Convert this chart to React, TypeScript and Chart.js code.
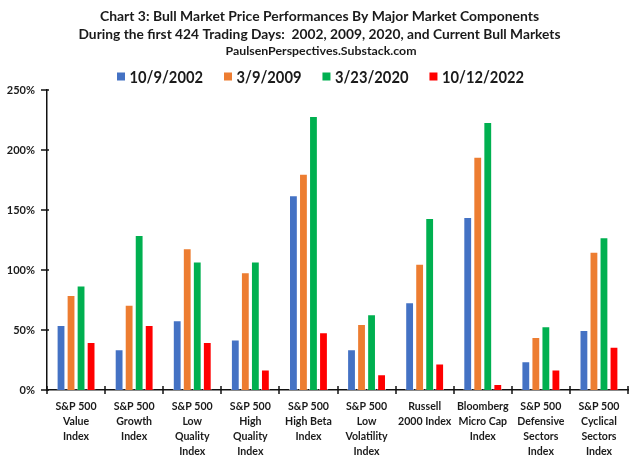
import React, { useEffect, useRef } from 'react';
import { Chart, registerables } from 'chart.js';
Chart.register(...registerables);

const categories: string[][] = [
  ['S&P 500', 'Value', 'Index'],
  ['S&P 500', 'Growth', 'Index'],
  ['S&P 500', 'Low', 'Quality', 'Index'],
  ['S&P 500', 'High', 'Quality', 'Index'],
  ['S&P 500', 'High Beta', 'Index'],
  ['S&P 500', 'Low', 'Volatility', 'Index'],
  ['Russell', '2000 Index'],
  ['Bloomberg', 'Micro Cap', 'Index'],
  ['S&P 500', 'Defensive', 'Sectors', 'Index'],
  ['S&P 500', 'Cyclical', 'Sectors', 'Index'],
];

const seriesLabels = ['10/9/2002', '3/9/2009', '3/23/2020', '10/12/2022'];
const series2002 = [54, 34, 58, 42, 162, 34, 73, 144, 24, 50];
const series2009 = [79, 71, 118, 98, 180, 55, 105, 194, 44, 115];
const series2020 = [87, 129, 107, 107, 228, 63, 143, 223, 53, 127];
const series2022 = [40, 54, 40, 17, 48, 13, 22, 5, 17, 36];
const seriesColors = ['#4472C4', '#ED7D31', '#00B050', '#FF0000'];

const yTickValues = [0, 50, 100, 150, 200, 250];
const yTickLabels = ['0%', '50%', '100%', '150%', '200%', '250%'];

const titleLine1 = 'Chart 3: Bull Market Price Performances By Major Market Components';
const titleLine2 = 'During the first 424 Trading Days:  2002, 2009, 2020, and Current Bull Markets';
const titleLine3 = 'PaulsenPerspectives.Substack.com';

const FONT = 'Lato, "DejaVu Sans", sans-serif';
const TEXT = '#1a1a1a';

function drawText(ctx: CanvasRenderingContext2D, text: string, x: number, y: number, sx: number, align: CanvasTextAlign) {
  ctx.save();
  ctx.translate(x, y);
  ctx.scale(sx, 1);
  ctx.textAlign = align;
  ctx.fillText(text, 0, 0);
  ctx.restore();
}

function fitScale(ctx: CanvasRenderingContext2D, text: string, target: number) {
  return target / ctx.measureText(text).width;
}

const overlayPlugin = {
  id: 'overlay',
  afterDraw(chart: any) {
    const ctx = chart.ctx as CanvasRenderingContext2D;
    ctx.save();
    ctx.fillStyle = TEXT;
    ctx.textBaseline = 'middle';

    // titles
    ctx.font = `bold 13.5px ${FONT}`;
    drawText(ctx, titleLine1, 319.5, 17, fitScale(ctx, titleLine1, 439), 'center');
    drawText(ctx, titleLine2, 319.5, 35, fitScale(ctx, titleLine2, 482), 'center');
    ctx.font = `bold 11px ${FONT}`;
    drawText(ctx, titleLine3, 321, 51, fitScale(ctx, titleLine3, 191), 'center');

    // legend
    ctx.font = `bold 17px ${FONT}`;
    const ls = fitScale(ctx, seriesLabels[0], 73.5);
    const box = 8, gap = 4.5, spacing = 21;
    const ds = chart.data.datasets;
    const widths = ds.map((d: any) => box + gap + ctx.measureText(d.label).width * ls);
    const total = widths.reduce((a: number, b: number) => a + b, 0) + spacing * (ds.length - 1);
    let x = 320.5 - total / 2;
    ds.forEach((d: any, i: number) => {
      ctx.fillStyle = d.backgroundColor;
      ctx.fillRect(x, 76.5 - box / 2, box, box);
      ctx.fillStyle = TEXT;
      drawText(ctx, d.label, x + box + gap, 77.5, ls, 'left');
      x += widths[i] + spacing;
    });

    const xs = chart.scales.x;
    const ys = chart.scales.y;

    // y tick labels
    ctx.font = `bold 11px ${FONT}`;
    yTickValues.forEach((v, i) => {
      drawText(ctx, yTickLabels[i], 35, ys.getPixelForValue(v) + 0.5, 1, 'right');
    });

    // x tick labels
    ctx.font = `bold 12px ${FONT}`;
    const xsx = fitScale(ctx, 'S&P 500', 41);
    categories.forEach((lines, i) => {
      const cx = xs.getPixelForValue(i);
      lines.forEach((t, k) => drawText(ctx, t, cx, 406.5 + 15 * k, xsx, 'center'));
    });

    // tick marks
    ctx.strokeStyle = '#111';
    ctx.lineWidth = 1.5;
    const by = ys.getPixelForValue(0);
    for (let i = 0; i <= categories.length; i++) {
      const px = Math.round(xs.getPixelForValue(i - 0.5));
      ctx.beginPath();
      ctx.moveTo(px, by - 4);
      ctx.lineTo(px, by + 4);
      ctx.stroke();
    }
    const ax = xs.left;
    yTickValues.forEach((v) => {
      const py = Math.round(ys.getPixelForValue(v));
      ctx.beginPath();
      ctx.moveTo(ax - 6, py);
      ctx.lineTo(ax + 2, py);
      ctx.stroke();
    });
    ctx.restore();
  },
};

export default function App() {
  const ref = useRef<HTMLCanvasElement | null>(null);
  useEffect(() => {
    if (!ref.current) return;
    const allSeries = [series2002, series2009, series2020, series2022];
    const chart = new Chart(ref.current, {
      type: 'bar',
      data: {
        labels: categories,
        datasets: allSeries.map((s, i) => ({
          label: seriesLabels[i],
          data: s,
          backgroundColor: seriesColors[i],
          borderColor: 'rgba(255,255,255,0.55)',
          borderWidth: 1,
          categoryPercentage: 0.69,
          barPercentage: 0.88,
        })),
      },
      options: {
        responsive: false,
        animation: false,
        layout: { padding: { top: 89.5, right: 11, left: 0, bottom: 0 } },
        plugins: {
          legend: { display: false },
          title: { display: false },
          tooltip: { enabled: false },
        },
        scales: {
          x: {
            grid: { display: false },
            border: { display: true, color: '#111', width: 1.5 },
            ticks: { display: false },
            afterFit: (s: any) => { s.height = 74; },
          },
          y: {
            min: 0,
            max: 250,
            afterBuildTicks: (s: any) => { s.ticks = yTickValues.map((v) => ({ value: v })); },
            grid: { display: false },
            border: { display: true, color: '#111', width: 1.5 },
            ticks: { display: false },
            afterFit: (s: any) => { s.width = 47; },
          },
        },
      },
      plugins: [overlayPlugin],
    });
    return () => chart.destroy();
  }, []);
  return (
    <div style={{ position: 'fixed', left: 0, top: 0, width: 639, height: 464, background: '#fff' }}>
      <canvas ref={ref} width={639} height={464} />
    </div>
  );
}
